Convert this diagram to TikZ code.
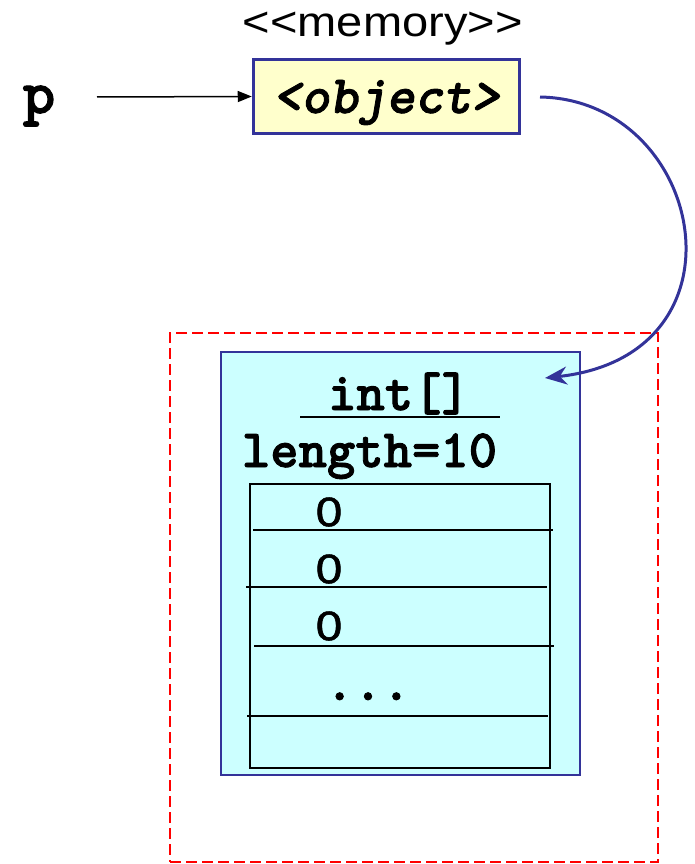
\documentclass[tikz,border=0pt]{standalone}
\usepackage{fontspec}
\setmainfont{Liberation Sans}
\newfontfamily\courb{lmmonolt10}[Extension=.otf, UprightFont=*-bold, BoldFont=*-bold, ItalicFont=*-boldoblique, BoldItalicFont=*-boldoblique, FakeBold=1.6]
\newfontfamily\zerofont{Liberation Sans}[FakeBold=1.3]
\usetikzlibrary{arrows.meta}
\definecolor{objyellow}{HTML}{FFFFCC}
\definecolor{umlblue}{HTML}{333399}
\definecolor{arrcyan}{HTML}{CCFFFF}
\definecolor{dashred}{HTML}{FF0000}
\tikzset{
  monob/.style={font=\fontsize{54}{58}\courb, inner sep=0pt},
  objbox/.style={draw=umlblue, fill=objyellow, line width=3.5pt, inner sep=0pt},
  arrbox/.style={draw=umlblue, fill=arrcyan, line width=1.8pt, inner sep=0pt},
  cellline/.style={line width=2pt, black},
  zerolbl/.style={font=\fontsize{41}{44}\zerofont, inner sep=0pt},
  ptr/.style={line width=1.5pt, -{Triangle[length=14pt,width=11pt]}},
  ref/.style={line width=3pt, umlblue, -{Stealth[length=22pt,width=18pt]}},
}
\begin{document}
\begin{tikzpicture}[x=1pt,y=-1pt]
\useasboundingbox (0,0) rectangle (694,864);
% memory stereotype
\node[anchor=base, inner sep=0pt, font=\fontsize{42}{46}\selectfont] (mem) at (382.7,37) {\scalebox{1.12}[1]{<{}<memory>{}>}};
% object box
\node[objbox, minimum width=266pt, minimum height=74pt] (obj) at (386.5,96.5) {};
\node[monob, anchor=base] (objtxt) at (386.5,113) {\itshape <object>};
% p
\node[font=\fontsize{62}{66}\courb, inner sep=0pt, anchor=base] (p) at (39,113) {p};
\coordinate (pstart) at (97,97);
\draw[ptr] (pstart) -- (obj.west);
% red dashed frame
\node[draw=dashred, line width=2.5pt, dash pattern=on 11pt off 5pt, minimum width=488pt, minimum height=529pt, inner sep=0pt] (frame) at (414,597.5) {};
% cyan array box
\node[arrbox, minimum width=359pt, minimum height=423pt] (arr) at (400.5,563.5) {};
\node[monob, anchor=base] (inttxt) at (399,410) {int[]};
\draw[line width=2.5pt] (300,417) -- (500,417);
\node[monob, anchor=base] (len) at (369.5,467) {length=10};
% inner cells
\draw[line width=2pt] (250,484) rectangle (550,768);
\draw[cellline] (253,530) -- (553,530);
\draw[cellline] (246,587) -- (547,587);
\draw[cellline] (254,646) -- (554,646);
\draw[cellline] (247,716) -- (548,716);
\node[zerolbl] (z1) at (329,512) {\scalebox{1.16}[1]{0}};
\node[zerolbl] (z2) at (329,569) {\scalebox{1.16}[1]{0}};
\node[zerolbl] (z3) at (329,626) {\scalebox{1.16}[1]{0}};
\node[monob, anchor=base] (dots) at (368,700) {...};
% reference arrow
\coordinate (rstart) at (540,97);
\coordinate (rend) at (545,378);
\draw[ref] (rstart) .. controls (705,100) and (755,355) .. (rend);
\end{tikzpicture}
\end{document}
